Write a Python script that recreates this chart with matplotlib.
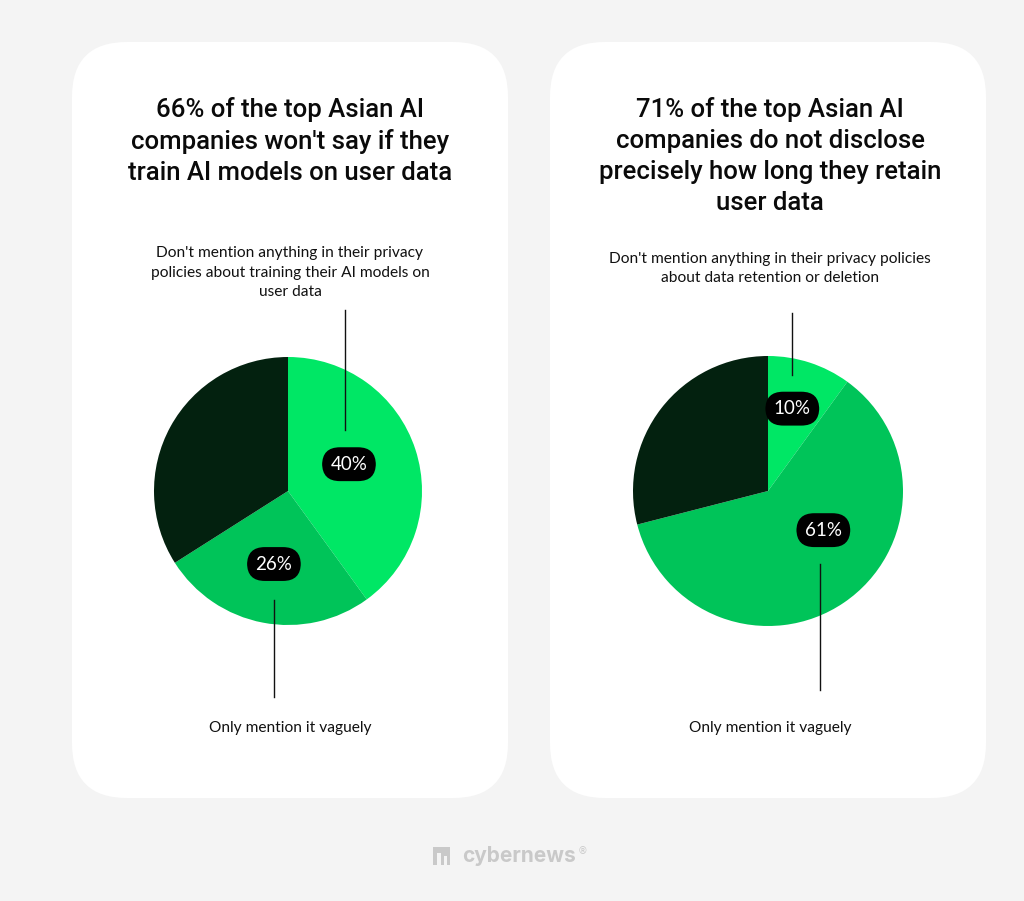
import matplotlib
matplotlib.use("Agg")
import matplotlib.pyplot as plt
from matplotlib.patches import FancyBboxPatch

# ---- data ----
titles = [
    "66% of the top Asian AI\ncompanies won't say if they\ntrain AI models on user data",
    "71% of the top Asian AI\ncompanies do not disclose\nprecisely how long they retain\nuser data",
]
top_notes = [
    "Don't mention anything in their privacy\npolicies about training their AI models on\nuser data",
    "Don't mention anything in their privacy policies\nabout data retention or deletion",
]
bottom_notes = ["Only mention it vaguely", "Only mention it vaguely"]
left_values = [40, 26, 34]
right_values = [10, 61, 29]
left_labels = ["40%", "26%", None]
right_labels = ["10%", "61%", None]

# ---- style ----
W, H, DPI = 1024, 901, 100
BG = "#f4f4f4"
COLORS = ["#00e765", "#00c459", "#03210f"]
TITLE_FONT = "Roboto"
BODY_FONT = "Lato"

fig = plt.figure(figsize=(W / DPI, H / DPI), dpi=DPI, facecolor=BG)
bg = fig.add_axes([0, 0, 1, 1])
bg.set_xlim(0, W)
bg.set_ylim(H, 0)
bg.axis("off")

# cards
for x0 in (72, 550):
    card = FancyBboxPatch((x0 + 55, 42 + 55), 436 - 110, 756 - 110,
                          boxstyle="round,pad=55", fc="white", ec="none")
    bg.add_patch(card)

centers = [(288, 491), (768, 491)]
radii = [134, 135]
title_y = [97, 97]
values_list = [left_values, right_values]
labels_list = [left_labels, right_labels]
# badge positions in pie-unit coordinates
badge_pos = [[(0.455, 0.20), (-0.105, -0.545)], [(0.18, 0.61), (0.41, -0.29)]]
# leader lines in pixel coords: (x, y_start, y_end)
leaders = [[(345, 310, 430), (274, 600, 697)], [(792, 313, 375), (820, 564, 690)]]
top_note_y = [246, 252]
bottom_note_y = [728, 728]

for i in range(2):
    cx, cy = centers[i]
    r = radii[i]
    # title
    bg.text(cx + 2, title_y[i], titles[i], ha="center", va="top",
            fontsize=18.5, family=TITLE_FONT, fontweight="medium",
            color="#0a0a0a", linespacing=1.37)
    # notes
    bg.text(cx + 2, top_note_y[i], top_notes[i], ha="center", va="top",
            fontsize=11.2, family=BODY_FONT, color="#111111", linespacing=1.5)
    bg.text(cx + 2, bottom_note_y[i], bottom_notes[i], ha="center", va="center",
            fontsize=11.2, family=BODY_FONT, color="#111111")
    # pie axes
    ax = fig.add_axes([(cx - r) / W, (H - cy - r) / H, 2 * r / W, 2 * r / H])
    ax.pie(values_list[i], colors=COLORS, startangle=90, counterclock=False,
           radius=1, wedgeprops=dict(linewidth=0))
    ax.set_xlim(-1, 1)
    ax.set_ylim(-1, 1)
    ax.set_aspect("auto")
    ax.axis("off")
    # badges
    k = 0
    for lab in labels_list[i]:
        if lab is None:
            continue
        bx, by = badge_pos[i][k]
        k += 1
        ax.text(bx, by, lab, ha="center", va="center", fontsize=13.5,
                family=BODY_FONT, color="white", zorder=5,
                bbox=dict(boxstyle="round,pad=0.45,rounding_size=0.95",
                          fc="black", ec="none"))

# overlay for leader lines and footer
ov = fig.add_axes([0, 0, 1, 1])
ov.set_xlim(0, W)
ov.set_ylim(H, 0)
ov.axis("off")
ov.patch.set_alpha(0)
for i in range(2):
    for (lx, y0, y1) in leaders[i]:
        ov.plot([lx, lx], [y0, y1], color="#111111", lw=1.0)

# footer logo
ov.add_patch(FancyBboxPatch((433, 847), 17, 18, boxstyle="square,pad=0",
                            fc="#c9c9c9", ec="none"))
ov.add_patch(FancyBboxPatch((437, 853), 4, 12, boxstyle="square,pad=0",
                            fc=BG, ec="none"))
ov.add_patch(FancyBboxPatch((444, 856), 3, 9, boxstyle="square,pad=0",
                            fc=BG, ec="none"))
ov.text(462, 856, "cybernews", ha="left", va="center", fontsize=15,
        family="Inter", fontweight="bold", color="#c9c9c9")
ov.text(578, 851, "®", ha="left", va="center", fontsize=7,
        family="DejaVu Sans", color="#c9c9c9")

fig.savefig("out.png", dpi=DPI, facecolor=BG)
